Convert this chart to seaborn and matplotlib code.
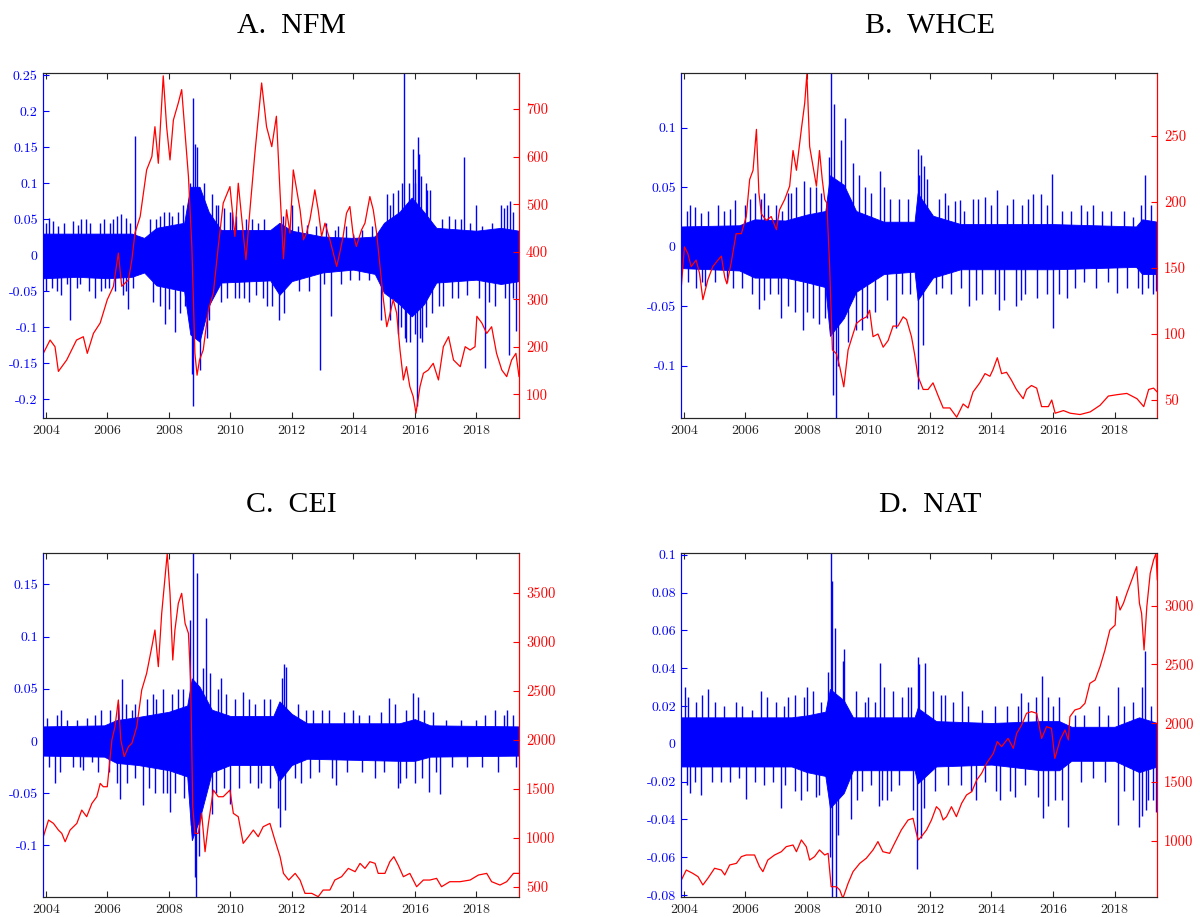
import matplotlib
matplotlib.use("Agg")
import matplotlib.pyplot as plt
import pandas as pd
import seaborn as sns
from matplotlib.ticker import FuncFormatter

# Four sector indices: daily log-returns (blue, left axis) and price level
# (red, right axis).  Values were read off the figure, time in decimal years.
# The return series is kept as its dense core band plus the visible spikes.

X_START, X_END = 2003.92, 2019.39
YEAR_TICKS = [2004, 2006, 2008, 2010, 2012, 2014, 2016, 2018]

# ── A. NFM ────────────────────────────────────────────────────────────────
NFM_PRICE = [
    (2003.92, 186), (2004.14, 214), (2004.30, 200), (2004.41, 148), (2004.68, 172),
    (2005.00, 214), (2005.22, 221), (2005.35, 186), (2005.55, 228), (2005.77, 250),
    (2006.00, 299), (2006.20, 327), (2006.36, 397), (2006.47, 327), (2006.69, 341),
    (2006.80, 383), (2006.90, 439), (2007.07, 474), (2007.28, 572), (2007.45, 600),
    (2007.55, 663), (2007.66, 586), (2007.82, 770), (2007.93, 663), (2008.04, 593),
    (2008.15, 677), (2008.31, 713), (2008.42, 741), (2008.53, 649), (2008.64, 558),
    (2008.75, 411), (2008.85, 186), (2008.92, 140), (2009.00, 172), (2009.12, 193),
    (2009.29, 278), (2009.45, 313), (2009.61, 411), (2009.77, 502), (2009.99, 537),
    (2010.15, 432), (2010.26, 544), (2010.42, 439), (2010.51, 383), (2010.64, 488),
    (2010.80, 607), (2011.02, 755), (2011.18, 663), (2011.35, 621), (2011.50, 685),
    (2011.62, 523), (2011.73, 385), (2011.83, 488), (2011.94, 439), (2012.05, 572),
    (2012.16, 530), (2012.27, 488), (2012.38, 425), (2012.48, 439), (2012.59, 467),
    (2012.70, 509), (2012.75, 530), (2012.86, 488), (2012.97, 432), (2013.08, 460),
    (2013.24, 425), (2013.35, 397), (2013.46, 369), (2013.56, 397), (2013.67, 432),
    (2013.78, 481), (2013.89, 495), (2013.99, 439), (2014.10, 411), (2014.27, 446),
    (2014.38, 460), (2014.54, 516), (2014.65, 488), (2014.76, 439), (2014.87, 369),
    (2014.98, 299), (2015.09, 242), (2015.20, 271), (2015.30, 299), (2015.41, 271),
    (2015.52, 193), (2015.63, 130), (2015.73, 158), (2015.84, 116), (2015.95, 95),
    (2016.04, 60), (2016.17, 116), (2016.28, 144), (2016.44, 151), (2016.60, 165),
    (2016.77, 130), (2016.93, 200), (2017.10, 221), (2017.26, 172), (2017.48, 158),
    (2017.64, 200), (2017.80, 193), (2017.96, 200), (2018.02, 264), (2018.18, 250),
    (2018.34, 228), (2018.50, 242), (2018.66, 186), (2018.83, 151), (2018.99, 137),
    (2019.15, 172), (2019.29, 186), (2019.39, 137),
]
NFM_BAND = [  # (year, upper, lower) of the dense core of the return series
    (2003.92, 0.030, -0.032), (2005.00, 0.030, -0.030), (2006.00, 0.030, -0.032),
    (2006.80, 0.030, -0.030), (2007.20, 0.024, -0.024), (2007.60, 0.038, -0.042),
    (2008.50, 0.045, -0.050), (2008.70, 0.095, -0.110), (2009.00, 0.095, -0.120),
    (2009.30, 0.060, -0.070), (2009.70, 0.035, -0.038), (2011.30, 0.035, -0.035),
    (2011.60, 0.045, -0.055), (2012.00, 0.034, -0.036), (2013.00, 0.026, -0.024),
    (2014.00, 0.024, -0.020), (2014.70, 0.026, -0.026), (2015.00, 0.045, -0.052),
    (2015.50, 0.060, -0.068), (2015.90, 0.080, -0.085), (2016.30, 0.060, -0.068),
    (2016.70, 0.038, -0.038), (2018.00, 0.034, -0.034), (2018.80, 0.038, -0.040),
    (2019.39, 0.034, -0.036),
]
NFM_SPIKES = [
    (2004.00, 0.045), (2004.10, 0.052), (2004.25, 0.048), (2004.40, 0.040),
    (2004.60, 0.045), (2004.90, 0.047), (2005.05, 0.042), (2005.15, 0.050),
    (2005.30, 0.050), (2005.45, 0.045), (2005.75, 0.045), (2005.90, 0.050),
    (2006.10, 0.045), (2006.20, 0.050), (2006.30, 0.055), (2006.45, 0.057),
    (2006.60, 0.052), (2006.75, 0.045), (2006.90, 0.165),
    (2004.02, -0.050), (2004.20, -0.045), (2004.35, -0.050), (2004.50, -0.055),
    (2004.70, -0.040), (2004.80, -0.090), (2005.00, -0.045), (2005.10, -0.040),
    (2005.40, -0.050), (2005.60, -0.060), (2005.78, -0.050), (2005.92, -0.045),
    (2006.05, -0.045), (2006.25, -0.050), (2006.50, -0.055), (2006.62, -0.050),
    (2006.68, -0.075), (2006.85, -0.045),
    (2007.40, 0.050), (2007.60, 0.050), (2007.70, 0.055), (2007.85, 0.060),
    (2008.00, 0.060), (2008.10, 0.055), (2008.30, 0.060), (2008.45, 0.070),
    (2007.50, -0.065), (2007.72, -0.070), (2007.88, -0.095), (2008.02, -0.075),
    (2008.20, -0.107), (2008.35, -0.080), (2008.52, -0.070),
    (2008.70, 0.100), (2008.75, -0.165), (2008.78, 0.218), (2008.80, -0.210),
    (2008.86, 0.155), (2008.92, 0.150), (2009.00, -0.160), (2009.15, 0.100),
    (2009.25, -0.115), (2009.30, -0.090), (2009.40, 0.085), (2009.55, 0.070),
    (2009.60, 0.070), (2009.80, 0.065), (2010.00, 0.060), (2010.05, 0.060),
    (2010.20, 0.055), (2010.50, 0.050), (2010.70, 0.050), (2010.90, 0.045),
    (2011.10, 0.050), (2011.70, 0.055), (2012.00, 0.070),
    (2009.70, -0.065), (2009.90, -0.060), (2010.15, -0.060), (2010.30, -0.060),
    (2010.45, -0.060), (2010.60, -0.065), (2010.85, -0.055), (2011.05, -0.060),
    (2011.20, -0.070), (2011.35, -0.070), (2011.60, -0.090), (2011.75, -0.080),
    (2012.20, 0.040), (2012.50, 0.042), (2012.80, 0.040), (2013.10, 0.045),
    (2013.40, 0.035), (2013.50, 0.040), (2013.75, 0.040), (2014.00, 0.030),
    (2014.30, 0.035), (2014.60, 0.040),
    (2012.25, -0.050), (2012.55, -0.050), (2012.92, -0.160), (2013.05, -0.040),
    (2013.27, -0.085), (2013.60, -0.040), (2013.90, -0.035), (2014.20, -0.035),
    (2014.50, -0.035), (2014.90, -0.090),
    (2015.10, 0.085), (2015.20, 0.070), (2015.30, 0.087), (2015.45, 0.090),
    (2015.60, 0.100), (2015.65, 0.253), (2015.80, 0.100), (2015.95, 0.148),
    (2016.00, 0.120), (2016.02, 0.100), (2016.09, 0.164), (2016.15, 0.140),
    (2016.20, 0.110), (2016.35, 0.100), (2016.40, 0.090), (2016.50, 0.090),
    (2015.20, -0.090), (2015.45, -0.110), (2015.55, -0.100), (2015.68, -0.115),
    (2015.70, -0.120), (2015.85, -0.120), (2016.00, -0.110), (2016.06, -0.210),
    (2016.17, -0.115), (2016.25, -0.120), (2016.35, -0.100), (2016.55, -0.080),
    (2016.90, 0.050), (2017.10, 0.055), (2017.30, 0.050), (2017.50, 0.050),
    (2017.60, 0.136), (2017.80, 0.045), (2018.00, 0.070), (2018.20, 0.040),
    (2018.50, 0.045), (2018.80, 0.070), (2018.90, 0.065), (2019.00, 0.070),
    (2019.10, 0.075), (2019.20, 0.060),
    (2016.80, -0.070), (2016.92, -0.070), (2017.20, -0.060), (2017.40, -0.060),
    (2017.70, -0.055), (2018.10, -0.060), (2018.30, -0.157), (2018.40, -0.065),
    (2018.60, -0.070), (2018.95, -0.060), (2019.05, -0.138), (2019.20, -0.060),
    (2019.30, -0.105),
]

# ── B. WHCE ───────────────────────────────────────────────────────────────
WHCE_PRICE = [
    (2003.92, 136), (2004.02, 166), (2004.13, 161), (2004.24, 151), (2004.40, 156),
    (2004.51, 146), (2004.62, 126), (2004.78, 141), (2004.94, 151), (2005.11, 156),
    (2005.22, 159), (2005.33, 143), (2005.40, 138), (2005.54, 154), (2005.70, 176),
    (2005.87, 176), (2006.03, 189), (2006.14, 217), (2006.25, 224), (2006.36, 255),
    (2006.44, 207), (2006.52, 191), (2006.68, 186), (2006.84, 189), (2007.01, 179),
    (2007.11, 194), (2007.28, 202), (2007.44, 212), (2007.55, 239), (2007.66, 224),
    (2007.82, 255), (2007.93, 275), (2008.00, 297), (2008.09, 242), (2008.20, 227),
    (2008.31, 212), (2008.41, 239), (2008.50, 217), (2008.58, 202), (2008.65, 199),
    (2008.74, 151), (2008.83, 88), (2008.96, 85), (2009.07, 75), (2009.20, 60),
    (2009.34, 88), (2009.50, 100), (2009.61, 108), (2009.77, 111), (2009.94, 113),
    (2010.04, 118), (2010.15, 98), (2010.31, 100), (2010.48, 90), (2010.64, 95),
    (2010.80, 106), (2010.96, 106), (2011.13, 113), (2011.24, 111), (2011.40, 98),
    (2011.50, 85), (2011.61, 68), (2011.78, 58), (2011.94, 58), (2012.10, 63),
    (2012.27, 53), (2012.43, 44), (2012.65, 44), (2012.87, 37), (2013.08, 47),
    (2013.24, 44), (2013.40, 56), (2013.62, 63), (2013.79, 70), (2013.95, 68),
    (2014.05, 73), (2014.19, 82), (2014.33, 70), (2014.49, 71), (2014.65, 65),
    (2014.81, 58), (2015.03, 51), (2015.14, 58), (2015.30, 61), (2015.47, 59),
    (2015.63, 45), (2015.85, 45), (2015.96, 50), (2016.07, 40), (2016.34, 42),
    (2016.56, 40), (2016.88, 39), (2017.21, 41), (2017.53, 46), (2017.80, 53),
    (2018.07, 54), (2018.40, 55), (2018.73, 51), (2018.95, 45), (2019.11, 58),
    (2019.27, 59), (2019.39, 56),
]
WHCE_BAND = [
    (2003.92, 0.017, -0.018), (2005.80, 0.018, -0.020), (2006.30, 0.023, -0.026),
    (2007.30, 0.022, -0.026), (2008.00, 0.027, -0.030), (2008.60, 0.030, -0.034),
    (2008.75, 0.060, -0.075), (2009.20, 0.052, -0.060), (2009.60, 0.030, -0.038),
    (2010.50, 0.021, -0.023), (2011.50, 0.021, -0.021), (2011.60, 0.045, -0.045),
    (2012.10, 0.026, -0.026), (2013.00, 0.019, -0.019), (2016.00, 0.019, -0.019),
    (2018.70, 0.017, -0.017), (2018.90, 0.023, -0.023), (2019.39, 0.021, -0.023),
]
WHCE_SPIKES = [
    (2004.10, 0.030), (2004.20, 0.035), (2004.35, 0.033), (2004.55, 0.028),
    (2004.80, 0.030), (2005.10, 0.035), (2005.30, 0.030), (2005.50, 0.032),
    (2005.67, 0.039), (2006.00, 0.035), (2006.15, 0.040), (2006.30, 0.045),
    (2006.50, 0.040), (2006.60, 0.045), (2006.75, 0.035), (2007.00, 0.035),
    (2007.20, 0.030),
    (2004.15, -0.030), (2004.40, -0.035), (2004.60, -0.030), (2004.70, -0.033),
    (2005.00, -0.030), (2005.40, -0.030), (2005.60, -0.035), (2005.90, -0.035),
    (2006.20, -0.040), (2006.43, -0.052), (2006.62, -0.045), (2006.80, -0.040),
    (2007.05, -0.040), (2007.16, -0.060),
    (2007.40, 0.045), (2007.50, 0.045), (2007.65, 0.050), (2007.90, 0.055),
    (2008.10, 0.050), (2008.30, 0.050), (2008.45, 0.045),
    (2007.40, -0.050), (2007.60, -0.055), (2007.87, -0.070), (2008.00, -0.055),
    (2008.20, -0.060), (2008.40, -0.065), (2008.60, -0.060),
    (2008.73, 0.075), (2008.80, 0.146), (2008.85, -0.125), (2008.88, 0.120),
    (2008.94, -0.144), (2009.00, -0.100), (2009.10, 0.090), (2009.23, 0.108),
    (2009.35, -0.080), (2009.50, 0.070),
    (2009.70, 0.060), (2009.90, 0.050), (2010.10, 0.045), (2010.37, 0.064),
    (2010.50, 0.050), (2010.70, 0.040), (2011.00, 0.040), (2011.30, 0.040),
    (2009.60, -0.070), (2009.80, -0.070), (2009.95, -0.060), (2010.20, -0.055),
    (2010.60, -0.045), (2010.91, -0.068), (2011.10, -0.040), (2011.35, -0.040),
    (2011.60, -0.120), (2011.62, 0.082), (2011.66, 0.060), (2011.70, 0.077),
    (2011.76, -0.083), (2011.80, 0.068), (2011.92, 0.057),
    (2012.30, 0.040), (2012.50, 0.045), (2012.60, 0.035), (2012.80, 0.038),
    (2012.97, 0.039), (2013.10, 0.030), (2013.40, 0.040), (2013.55, 0.040),
    (2013.80, 0.042), (2014.00, 0.035), (2014.17, 0.048), (2014.50, 0.035),
    (2014.70, 0.040), (2015.00, 0.035), (2015.20, 0.040), (2015.35, 0.044),
    (2015.60, 0.044), (2015.80, 0.035), (2015.96, 0.061), (2016.30, 0.030),
    (2016.60, 0.030), (2016.90, 0.035), (2017.10, 0.030), (2017.30, 0.035),
    (2017.60, 0.030), (2017.90, 0.030), (2018.30, 0.030), (2018.60, 0.025),
    (2018.85, 0.035), (2019.00, 0.060), (2019.20, 0.035),
    (2012.20, -0.040), (2012.40, -0.035), (2012.70, -0.040), (2013.00, -0.035),
    (2013.26, -0.050), (2013.50, -0.045), (2013.70, -0.040), (2014.10, -0.040),
    (2014.23, -0.053), (2014.40, -0.045), (2014.80, -0.050), (2014.95, -0.045),
    (2015.10, -0.040), (2015.49, -0.043), (2015.80, -0.040), (2016.01, -0.068),
    (2016.20, -0.040), (2016.47, -0.043), (2016.70, -0.035), (2017.00, -0.030),
    (2017.40, -0.035), (2017.80, -0.030), (2018.09, -0.039), (2018.40, -0.035),
    (2018.75, -0.035), (2018.90, -0.040), (2019.10, -0.035), (2019.25, -0.040),
    (2019.36, -0.037),
]

# ── C. CEI ────────────────────────────────────────────────────────────────
CEI_PRICE = [
    (2003.92, 1010), (2004.09, 1180), (2004.25, 1146), (2004.41, 1078), (2004.52, 1044),
    (2004.63, 959), (2004.79, 1078), (2005.01, 1146), (2005.17, 1282), (2005.33, 1214),
    (2005.50, 1350), (2005.66, 1418), (2005.77, 1554), (2005.87, 1520), (2006.00, 1520),
    (2006.15, 1997), (2006.25, 2133), (2006.36, 2405), (2006.44, 1997), (2006.55, 1827),
    (2006.69, 1929), (2006.80, 1963), (2006.96, 2133), (2007.12, 2507), (2007.28, 2677),
    (2007.45, 2949), (2007.55, 3119), (2007.66, 2745), (2007.77, 3289), (2007.88, 3663),
    (2007.95, 3900), (2008.04, 3493), (2008.13, 2813), (2008.20, 3119), (2008.31, 3391),
    (2008.42, 3493), (2008.53, 3187), (2008.64, 3085), (2008.71, 2609), (2008.78, 1316),
    (2008.85, 1044), (2008.96, 1044), (2009.07, 1248), (2009.18, 857), (2009.29, 1146),
    (2009.45, 1486), (2009.61, 1418), (2009.77, 1418), (2009.99, 1486), (2010.10, 1248),
    (2010.26, 1214), (2010.42, 942), (2010.59, 1010), (2010.75, 1078), (2010.91, 1010),
    (2011.07, 1112), (2011.29, 1146), (2011.45, 976), (2011.62, 806), (2011.73, 636),
    (2011.90, 568), (2012.11, 636), (2012.27, 568), (2012.43, 432), (2012.65, 432),
    (2012.86, 398), (2013.02, 466), (2013.24, 466), (2013.40, 568), (2013.62, 602),
    (2013.84, 687), (2014.06, 653), (2014.22, 738), (2014.38, 687), (2014.54, 755),
    (2014.71, 738), (2014.81, 636), (2015.03, 636), (2015.19, 755), (2015.32, 806),
    (2015.46, 721), (2015.63, 602), (2015.84, 636), (2016.06, 500), (2016.28, 568),
    (2016.49, 568), (2016.71, 585), (2016.87, 500), (2017.14, 551), (2017.47, 551),
    (2017.80, 568), (2018.07, 619), (2018.34, 636), (2018.50, 551), (2018.77, 517),
    (2018.99, 551), (2019.21, 636), (2019.39, 636),
]
CEI_BAND = [
    (2003.92, 0.014, -0.014), (2005.90, 0.015, -0.015), (2006.30, 0.020, -0.021),
    (2007.00, 0.023, -0.023), (2008.00, 0.028, -0.028), (2008.60, 0.034, -0.034),
    (2008.75, 0.060, -0.095), (2009.00, 0.052, -0.075), (2009.40, 0.030, -0.030),
    (2010.00, 0.024, -0.023), (2011.40, 0.024, -0.023), (2011.60, 0.038, -0.038),
    (2012.00, 0.026, -0.023), (2012.50, 0.017, -0.017), (2015.50, 0.017, -0.019),
    (2016.00, 0.021, -0.019), (2016.50, 0.015, -0.015), (2019.39, 0.014, -0.014),
]
CEI_SPIKES = [
    (2004.05, 0.022), (2004.35, 0.025), (2004.50, 0.030), (2004.70, 0.020),
    (2005.00, 0.020), (2005.35, 0.022), (2005.60, 0.025), (2005.80, 0.030),
    (2006.10, 0.030), (2006.35, 0.035), (2006.47, 0.059), (2006.60, 0.035),
    (2006.80, 0.030), (2006.90, 0.035),
    (2004.10, -0.025), (2004.30, -0.040), (2004.45, -0.030), (2004.90, -0.025),
    (2005.10, -0.025), (2005.20, -0.028), (2005.50, -0.020), (2005.70, -0.030),
    (2006.05, -0.030), (2006.30, -0.040), (2006.40, -0.056), (2006.65, -0.040),
    (2006.90, -0.035), (2007.17, -0.061),
    (2007.30, 0.040), (2007.50, 0.045), (2007.60, 0.040), (2007.80, 0.050),
    (2008.10, 0.045), (2008.30, 0.050), (2008.45, 0.050),
    (2007.35, -0.045), (2007.55, -0.050), (2007.80, -0.050), (2007.95, -0.050),
    (2008.04, -0.068), (2008.20, -0.050), (2008.50, -0.055),
    (2008.68, 0.116), (2008.72, -0.080), (2008.78, 0.183), (2008.85, -0.130),
    (2008.88, -0.150), (2008.91, 0.161), (2008.97, -0.110), (2009.10, 0.070),
    (2009.20, 0.118), (2009.35, 0.065), (2009.40, -0.070),
    (2009.60, 0.050), (2009.70, 0.060), (2009.85, 0.045), (2010.15, 0.040),
    (2010.40, 0.047), (2010.60, 0.040), (2010.80, 0.035), (2011.10, 0.040),
    (2011.30, 0.040),
    (2009.55, -0.050), (2009.80, -0.045), (2010.00, -0.060), (2010.30, -0.045),
    (2010.65, -0.040), (2010.90, -0.045), (2011.00, -0.040), (2011.30, -0.045),
    (2011.56, -0.064), (2011.62, -0.082), (2011.67, 0.060), (2011.74, 0.074),
    (2011.79, -0.066), (2011.81, 0.071),
    (2012.20, 0.035), (2012.45, 0.030), (2012.70, 0.030), (2012.97, 0.030),
    (2013.20, 0.030), (2013.70, 0.028), (2014.00, 0.030), (2014.20, 0.025),
    (2014.50, 0.025), (2014.90, 0.028), (2015.15, 0.041), (2015.35, 0.035),
    (2015.70, 0.030), (2015.95, 0.046), (2016.10, 0.042), (2016.30, 0.030),
    (2016.60, 0.028), (2017.00, 0.020), (2017.50, 0.020), (2018.00, 0.020),
    (2018.30, 0.025), (2018.60, 0.030), (2018.90, 0.025), (2019.00, 0.030),
    (2019.20, 0.025),
    (2012.10, -0.035), (2012.30, -0.040), (2012.60, -0.035), (2012.90, -0.030),
    (2013.30, -0.035), (2013.45, -0.042), (2013.80, -0.030), (2014.30, -0.030),
    (2014.70, -0.035), (2015.00, -0.030), (2015.45, -0.045), (2015.53, -0.040),
    (2015.70, -0.035), (2016.00, -0.040), (2016.25, -0.035), (2016.47, -0.049),
    (2016.70, -0.030), (2016.83, -0.051), (2017.20, -0.025), (2017.70, -0.025),
    (2018.20, -0.025), (2018.70, -0.030), (2019.30, -0.025),
]

# ── D. NAT ────────────────────────────────────────────────────────────────
NAT_PRICE = [
    (2003.92, 665), (2004.08, 750), (2004.29, 722), (2004.46, 694), (2004.62, 623),
    (2004.78, 679), (2005.00, 765), (2005.22, 750), (2005.33, 708), (2005.49, 793),
    (2005.71, 807), (2005.87, 864), (2006.03, 878), (2006.30, 878), (2006.46, 779),
    (2006.57, 736), (2006.73, 835), (2006.95, 878), (2007.17, 906), (2007.33, 949),
    (2007.55, 963), (2007.66, 906), (2007.82, 1006), (2007.98, 949), (2008.09, 835),
    (2008.25, 864), (2008.41, 921), (2008.58, 878), (2008.69, 892), (2008.79, 608),
    (2008.96, 608), (2009.07, 580), (2009.17, 509), (2009.34, 637), (2009.50, 736),
    (2009.72, 807), (2009.93, 850), (2010.15, 921), (2010.31, 992), (2010.47, 906),
    (2010.69, 892), (2010.85, 977), (2011.07, 1091), (2011.29, 1176), (2011.45, 1190),
    (2011.56, 1062), (2011.62, 1006), (2011.72, 1034), (2011.89, 1091), (2012.05, 1176),
    (2012.21, 1289), (2012.32, 1261), (2012.43, 1176), (2012.54, 1204), (2012.70, 1289),
    (2012.86, 1204), (2013.03, 1318), (2013.19, 1389), (2013.36, 1417), (2013.52, 1516),
    (2013.68, 1573), (2013.84, 1658), (2014.06, 1743), (2014.19, 1843), (2014.33, 1800),
    (2014.54, 1871), (2014.71, 1786), (2014.82, 1913), (2014.98, 1984), (2015.14, 2084),
    (2015.30, 2098), (2015.47, 2084), (2015.63, 1870), (2015.79, 1970), (2015.95, 1956),
    (2016.06, 1700), (2016.23, 1857), (2016.39, 1942), (2016.50, 1857), (2016.55, 2055),
    (2016.71, 2112), (2016.88, 2126), (2017.04, 2169), (2017.20, 2339), (2017.37, 2367),
    (2017.53, 2481), (2017.69, 2623), (2017.85, 2793), (2018.02, 2835), (2018.07, 3077),
    (2018.18, 2963), (2018.29, 3020), (2018.40, 3105), (2018.56, 3218), (2018.72, 3332),
    (2018.81, 3020), (2018.88, 2935), (2018.96, 2623), (2019.05, 2991), (2019.16, 3275),
    (2019.27, 3389), (2019.35, 3445), (2019.39, 3218),
]
NAT_BAND = [
    (2003.92, 0.014, -0.012), (2007.50, 0.014, -0.012), (2008.00, 0.015, -0.015),
    (2008.60, 0.017, -0.017), (2008.75, 0.029, -0.034), (2009.20, 0.023, -0.026),
    (2009.50, 0.014, -0.014), (2011.50, 0.014, -0.014), (2011.60, 0.019, -0.021),
    (2012.20, 0.012, -0.012), (2014.00, 0.011, -0.011), (2015.60, 0.012, -0.014),
    (2016.20, 0.012, -0.014), (2016.60, 0.009, -0.009), (2018.00, 0.009, -0.009),
    (2018.80, 0.014, -0.015), (2019.39, 0.011, -0.012),
]
NAT_SPIKES = [
    (2004.05, 0.030), (2004.15, 0.025), (2004.40, 0.022), (2004.60, 0.026),
    (2004.80, 0.029), (2005.00, 0.022), (2005.30, 0.020), (2005.70, 0.022),
    (2005.90, 0.020), (2006.20, 0.018), (2006.50, 0.028), (2006.70, 0.025),
    (2007.00, 0.022), (2007.25, 0.020), (2007.40, 0.025), (2007.60, 0.026),
    (2007.90, 0.025), (2008.00, 0.030), (2008.20, 0.028), (2008.45, 0.022),
    (2004.10, -0.022), (2004.20, -0.026), (2004.35, -0.020), (2004.55, -0.027),
    (2004.90, -0.020), (2005.20, -0.020), (2005.50, -0.020), (2005.80, -0.018),
    (2006.01, -0.029), (2006.30, -0.020), (2006.60, -0.022), (2006.90, -0.020),
    (2007.17, -0.034), (2007.30, -0.022), (2007.60, -0.025), (2007.80, -0.030),
    (2008.00, -0.025), (2008.30, -0.028), (2008.40, -0.027),
    (2008.70, 0.038), (2008.75, -0.060), (2008.79, 0.101), (2008.81, -0.081),
    (2008.83, 0.086), (2008.90, 0.061), (2008.96, -0.081), (2009.00, -0.048),
    (2009.17, 0.044), (2009.20, 0.050), (2009.45, -0.040),
    (2009.60, 0.028), (2009.90, 0.022), (2010.00, 0.025), (2010.20, 0.022),
    (2010.37, 0.043), (2010.50, 0.030), (2010.80, 0.028), (2011.10, 0.025),
    (2011.30, 0.030), (2011.40, 0.030),
    (2009.62, -0.030), (2009.80, -0.025), (2010.10, -0.022), (2010.35, -0.033),
    (2010.45, -0.030), (2010.60, -0.030), (2010.75, -0.025), (2011.00, -0.022),
    (2011.45, -0.035),
    (2011.58, -0.066), (2011.62, 0.046), (2011.66, 0.042), (2011.70, -0.050),
    (2011.80, -0.034), (2011.85, 0.043),
    (2012.10, 0.028), (2012.37, 0.026), (2012.50, 0.026), (2012.75, 0.022),
    (2013.05, 0.028), (2013.25, 0.020), (2013.70, 0.018), (2014.10, 0.020),
    (2014.50, 0.020), (2014.85, 0.020), (2014.95, 0.027), (2015.20, 0.022),
    (2015.45, 0.025), (2015.65, 0.036), (2015.85, 0.025), (2016.00, 0.020),
    (2016.20, 0.025), (2016.70, 0.015), (2017.00, 0.015), (2017.50, 0.020),
    (2017.80, 0.015), (2018.11, 0.030), (2018.30, 0.020), (2018.60, 0.022),
    (2018.90, 0.030), (2018.98, 0.049), (2019.20, 0.020),
    (2012.15, -0.025), (2012.60, -0.022), (2013.00, -0.022), (2013.35, -0.025),
    (2013.50, -0.030), (2013.80, -0.020), (2014.15, -0.025), (2014.27, -0.030),
    (2014.60, -0.025), (2014.75, -0.028), (2015.10, -0.022), (2015.50, -0.028),
    (2015.68, -0.039), (2015.85, -0.033), (2016.05, -0.030), (2016.30, -0.030),
    (2016.49, -0.044), (2016.90, -0.020), (2017.30, -0.018), (2017.70, -0.020),
    (2018.12, -0.043), (2018.30, -0.025), (2018.60, -0.030), (2018.78, -0.044),
    (2018.90, -0.038), (2019.02, -0.035), (2019.10, -0.030), (2019.25, -0.030),
    (2019.36, -0.036),
]

BLUE = "#0000ff"
RED = "#ff0000"
FRAME = "#262626"


def _fmt(value, _pos):
    return f"{value:g}"


def draw_panel(ax, title, price, band, spikes, ret_lim, ret_ticks, price_lim, price_ticks):
    band_df = pd.DataFrame(band, columns=["year", "upper", "lower"])
    spike_df = pd.DataFrame(spikes, columns=["year", "ret"])
    price_df = pd.DataFrame(price, columns=["year", "price"])

    ax.fill_between(band_df["year"], band_df["lower"], band_df["upper"],
                    color=BLUE, linewidth=0.6)
    ax.vlines(spike_df["year"], 0, spike_df["ret"], color=BLUE, linewidth=1.0)

    ax2 = ax.twinx()
    sns.lineplot(data=price_df, x="year", y="price", ax=ax2, color=RED,
                 linewidth=0.9, sort=False, estimator=None)

    ax.set_xlim(X_START, X_END)
    ax.set_ylim(*ret_lim)
    ax2.set_ylim(*price_lim)
    ax.set_xticks(YEAR_TICKS)
    ax.set_xticklabels([str(y) for y in YEAR_TICKS])
    ax.set_yticks(ret_ticks)
    ax2.set_yticks(price_ticks)
    ax.yaxis.set_major_formatter(FuncFormatter(_fmt))
    ax2.yaxis.set_major_formatter(FuncFormatter(_fmt))
    for a in (ax, ax2):
        a.set_xlabel("")
        a.set_ylabel("")

    ax.tick_params(axis="x", direction="in", top=True, length=4, width=0.8,
                   colors=FRAME, labelsize=10, pad=5)
    ax.tick_params(axis="y", direction="in", length=4, width=0.8, colors=BLUE,
                   labelsize=10, pad=4)
    ax2.tick_params(axis="y", direction="in", length=4, width=0.8, colors=RED,
                    labelsize=10.5, pad=5)

    for a in (ax, ax2):
        a.spines["top"].set_color(FRAME)
        a.spines["bottom"].set_color(FRAME)
        a.spines["left"].set_color(BLUE)
        a.spines["right"].set_color(RED)
        for s in a.spines.values():
            s.set_linewidth(0.8)
            s.set_visible(True)

    ax.set_title(title, fontsize=21.5, family="Liberation Serif", color="black",
                 pad=29, x=0.522)


def main():
    sns.set_theme(style="ticks")
    plt.rcParams["font.family"] = ["cmr10", "DejaVu Serif"]
    plt.rcParams["axes.unicode_minus"] = False

    fig = plt.figure(figsize=(12, 9.17), dpi=100)
    panels = [
        ([0.0361, 0.5442, 0.3964, 0.3762], "A.  NFM", NFM_PRICE, NFM_BAND, NFM_SPIKES,
         (-0.226, 0.253), [-0.2, -0.15, -0.1, -0.05, 0, 0.05, 0.1, 0.15, 0.2, 0.25],
         (50, 776), [100, 200, 300, 400, 500, 600, 700]),
        ([0.5678, 0.5442, 0.3966, 0.3762], "B.  WHCE", WHCE_PRICE, WHCE_BAND, WHCE_SPIKES,
         (-0.144, 0.146), [-0.1, -0.05, 0, 0.05, 0.1],
         (36.4, 297.7), [50, 100, 150, 200, 250]),
        ([0.0361, 0.0215, 0.3964, 0.3758], "C.  CEI", CEI_PRICE, CEI_BAND, CEI_SPIKES,
         (-0.1497, 0.1804), [-0.1, -0.05, 0, 0.05, 0.1, 0.15],
         (392, 3908), [500, 1000, 1500, 2000, 2500, 3000, 3500]),
        ([0.5678, 0.0215, 0.3966, 0.3758], "D.  NAT", NAT_PRICE, NAT_BAND, NAT_SPIKES,
         (-0.0812, 0.1011), [-0.08, -0.06, -0.04, -0.02, 0, 0.02, 0.04, 0.06, 0.08, 0.1],
         (518, 3451), [1000, 1500, 2000, 2500, 3000]),
    ]

    for rect, title, price, band, spikes, rlim, rticks, plim, pticks in panels:
        ax = fig.add_axes(rect)
        draw_panel(ax, title, price, band, spikes, rlim, rticks, plim, pticks)

    fig.savefig("out.png", dpi=100)
    plt.close(fig)


if __name__ == "__main__":
    main()
